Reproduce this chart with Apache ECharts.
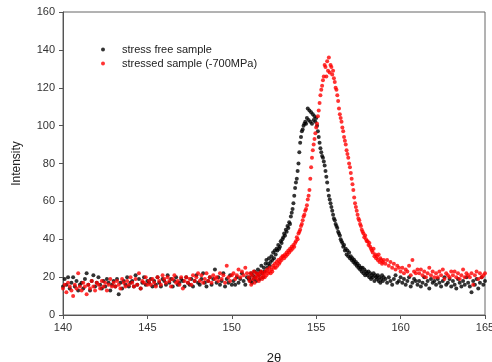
<!DOCTYPE html>
<html>
<head>
<meta charset="utf-8">
<script src="https://cdn.jsdelivr.net/npm/echarts@6/dist/echarts.min.js"></script>
<style>html,body{margin:0;padding:0;background:#fff;}#c{width:492px;height:362px;}</style>
</head>
<body>
<div id="c"></div>
<script>
// 2θ measurement grid: [start, end, step]
const angleRanges = [[140.0, 151.0, 0.1], [151.05, 159.0, 0.05], [159.1, 165.0, 0.1]];

const seriesNames = ['stress free sample', 'stressed sample (-700MPa)'];

const stressFree = [
  15,19,16,20,14,17,20,15,18,13,16,
  17,14,19,22,16,13,18,21,15,17,
  20,16,14,18,15,19,17,13,16,18,
  15,19,11,17,14,18,16,20,15,17,
  18,15,21,16,19,14,17,20,16,18,
  17,19,15,18,16,20,17,15,19,18,
  16,21,17,19,15,18,20,16,17,19,
  18,15,20,17,16,19,15,18,21,17,
  16,19,22,17,15,18,20,16,19,24,
  17,20,16,18,22,15,19,17,21,16,
  18,16,20,17,19,22,18,16,20,19,
  // fine region 151.05 - 159.0
  20,18,22,17,21,19,23,20,18,22,
  24,21,19,23,26,22,20,25,23,27,
  29,25,27,30,26,28,31,29,33,30,
  34,32,35,34,37,35,36,39,38,40,
  41,43,42,45,44,47,46,49,48,52,
  54,56,59,63,67,70,72,76,80,86,
  91,94,97,98,100,101,102,101,104,109,
  103,108,102,107,101,106,103,105,102,104,
  100,97,94,91,88,86,84,83,81,79,
  76,73,70,66,63,61,59,57,55,53,
  51,50,48,47,46,44,43,42,40,39,
  38,36,37,34,35,32,34,31,33,30,
  31,29,30,28,29,27,28,26,27,25,
  26,24,25,23,25,22,24,21,23,22,
  21,23,20,22,19,21,20,22,18,21,
  20,19,21,18,20,17,19,21,18,20,
  // 159.1 - 165.0
  19,17,20,18,16,19,21,17,18,20,
  17,19,16,18,20,15,17,19,18,16,
  18,15,17,20,16,18,14,19,17,18,
  16,19,17,15,18,20,16,17,19,15,
  18,16,14,19,17,15,18,16,20,17,
  15,12,18,16,19,14,17,20,16,18
];

const stressed = [
  14,16,12,17,15,13,10,16,14,22,15,
  13,17,15,11,16,14,18,15,13,17,
  16,14,18,15,17,13,16,19,15,17,
  15,18,16,14,19,17,15,18,16,20,
  17,15,19,16,22,14,18,17,20,16,
  18,16,19,17,15,20,18,16,21,19,
  17,20,18,15,19,21,17,18,16,20,
  14,18,20,17,19,16,21,18,20,22,
  18,21,17,19,22,18,20,17,21,19,
  20,18,22,19,21,17,26,20,18,21,
  22,19,21,24,20,23,21,25,22,20,
  // fine region 151.05 - 159.0
  18,22,16,21,19,23,17,20,22,19,
  21,18,22,20,23,19,21,22,20,23,
  21,24,22,23,25,22,24,23,26,25,
  27,25,28,26,29,27,28,30,29,31,
  31,30,32,31,33,32,34,33,35,34,
  36,35,37,36,38,39,41,40,43,44,
  45,47,48,50,52,53,55,56,58,61,
  63,66,72,78,83,87,90,93,96,99,
  101,105,108,112,116,119,121,124,126,132,
  131,126,134,129,136,128,132,131,127,129,
  125,123,120,119,116,113,109,106,104,102,
  99,97,94,92,90,87,85,83,80,78,
  75,72,69,66,62,59,57,55,53,51,
  50,48,47,45,44,43,41,42,40,39,
  39,37,38,36,35,34,33,35,31,32,
  30,31,29,32,28,30,29,27,28,29,
  // 159.1 - 165.0
  27,29,26,28,25,27,24,26,25,23,
  25,22,24,23,26,21,29,23,22,24,
  22,24,21,23,20,22,25,21,23,20,
  22,20,23,21,24,19,22,21,20,23,
  21,23,20,22,19,21,24,20,22,21,
  20,22,16,21,23,19,22,20,21,22
];

const xTicks = { min: 140, max: 165, interval: 5 };
const yTicks = { min: 0, max: 160, interval: 20 };

const angles = [];
angleRanges.forEach(function (r) {
  const n = Math.round((r[1] - r[0]) / r[2]) + 1;
  for (let i = 0; i < n; i++) angles.push(+(r[0] + i * r[2]).toFixed(2));
});

function pairs(vals) {
  return vals.map(function (v, i) { return [angles[i], v]; });
}

const FONT = '"Liberation Sans", Arial, sans-serif';
const chart = echarts.init(document.getElementById('c'), null, { renderer: 'canvas' });
chart.setOption({
  animation: false,
  backgroundColor: '#fff',
  grid: { left: 63, right: 7, top: 12, bottom: 47, containLabel: false, outerBoundsMode: 'none',
          show: true, borderColor: '#666', borderWidth: 1 },
  legend: {
    orient: 'vertical', left: 96, top: 38, icon: 'circle',
    itemWidth: 28, itemHeight: 4, itemGap: 1,
    textStyle: { fontFamily: FONT, fontSize: 11, color: '#222', lineHeight: 13 },
    data: seriesNames
  },
  xAxis: {
    type: 'value', min: xTicks.min, max: xTicks.max, interval: xTicks.interval,
    name: '2θ', nameLocation: 'middle', nameGap: 37,
    nameTextStyle: { fontFamily: FONT, fontSize: 13, color: '#222' },
    axisLine: { lineStyle: { color: '#555', width: 1 } },
    axisTick: { inside: false, length: 4, lineStyle: { color: '#555' } },
    axisLabel: { fontFamily: FONT, fontSize: 11, color: '#333', margin: 7 },
    splitLine: { show: false }
  },
  yAxis: {
    type: 'value', min: yTicks.min, max: yTicks.max, interval: yTicks.interval,
    name: 'Intensity', nameLocation: 'middle', nameGap: 40, nameRotate: 90,
    nameTextStyle: { fontFamily: FONT, fontSize: 12, color: '#222' },
    axisLine: { show: true, lineStyle: { color: '#555', width: 1 } },
    axisTick: { show: true, inside: false, length: 4, lineStyle: { color: '#555' } },
    axisLabel: { fontFamily: FONT, fontSize: 11, color: '#333', margin: 8 },
    splitLine: { show: false }
  },
  series: [
    { name: seriesNames[0], type: 'scatter', symbol: 'circle', symbolSize: 4,
      itemStyle: { color: '#000' }, data: pairs(stressFree) },
    { name: seriesNames[1], type: 'scatter', symbol: 'circle', symbolSize: 4,
      itemStyle: { color: '#ff0000' }, data: pairs(stressed) }
  ]
});
</script>
</body>
</html>
